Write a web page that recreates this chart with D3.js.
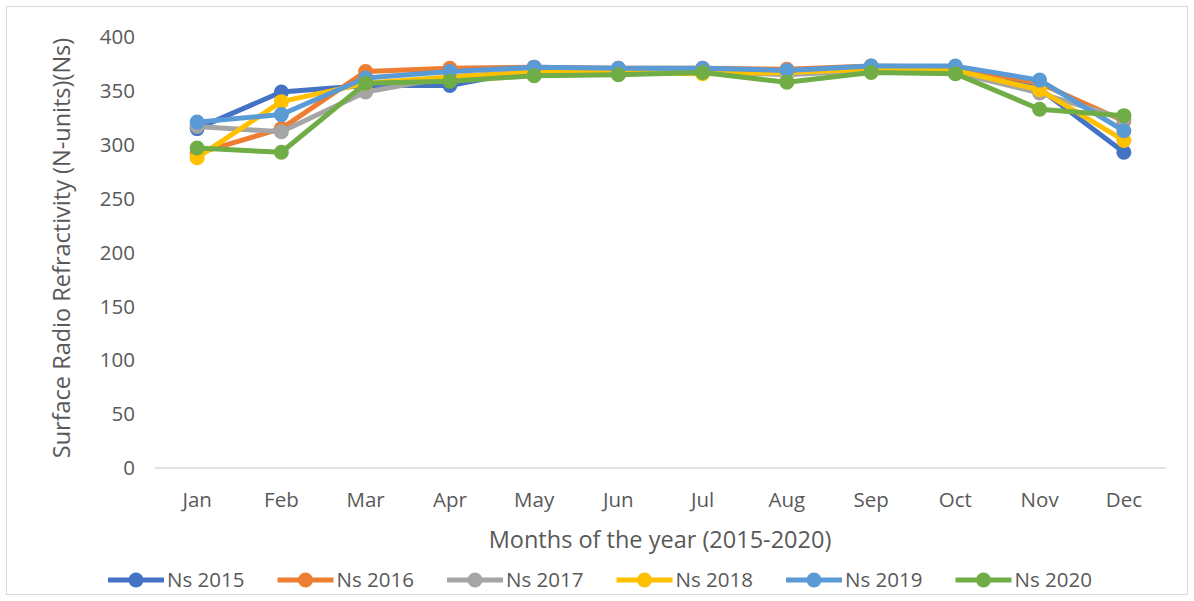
<!DOCTYPE html>
<html>
<head>
<meta charset="utf-8">
<script src="https://cdn.jsdelivr.net/npm/d3@7"></script>
<style>
  body { margin: 0; background: #fff; }
  svg { display: block; font-family: "Open Sans", sans-serif; }
</style>
</head>
<body>
<svg id="chart" width="1194" height="601"></svg>
<script>
var months = ["Jan", "Feb", "Mar", "Apr", "May", "Jun", "Jul", "Aug", "Sep", "Oct", "Nov", "Dec"];
var yTicks = [0, 50, 100, 150, 200, 250, 300, 350, 400];

var ns2015 = [315, 349, 355, 355, 370, 369, 369, 368, 372, 371, 352, 293];
var ns2016 = [292, 315, 368, 371, 372, 371, 371, 370, 373, 372, 357, 322];
var ns2017 = [317, 312, 349, 363, 368, 367, 368, 365, 369, 367, 348, 324];
var ns2018 = [288, 340, 357, 363, 367, 367, 366, 367, 370, 369, 351, 304];
var ns2019 = [321, 328, 362, 368, 372, 371, 371, 369, 373, 373, 360, 313];
var ns2020 = [297, 293, 357, 359, 364, 365, 367, 358, 367, 366, 333, 327];

var seriesNames = ["Ns 2015", "Ns 2016", "Ns 2017", "Ns 2018", "Ns 2019", "Ns 2020"];
var seriesValues = [ns2015, ns2016, ns2017, ns2018, ns2019, ns2020];
var colors = ["#4472C4", "#ED7D31", "#A5A5A5", "#FFC000", "#5B9BD5", "#70AD47"];

var svg = d3.select("#chart");

// chart border
svg.append("rect")
  .attr("x", 6.5).attr("y", 6.5)
  .attr("width", 1181).attr("height", 588)
  .attr("fill", "none").attr("stroke", "#d9d9d9");

var plotLeft = 155, plotRight = 1166, plotTop = 37, plotBottom = 468;

var x = d3.scalePoint().domain(months).range([plotLeft, plotRight]).padding(0.5);
var y = d3.scaleLinear().domain([0, 400]).range([plotBottom, plotTop]);

// y tick labels
svg.append("g").selectAll("text")
  .data(yTicks).enter().append("text")
  .attr("x", 135)
  .attr("y", function(d) { return y(d); })
  .attr("dy", "0.35em")
  .attr("text-anchor", "end")
  .attr("font-size", "20.5px")
  .attr("fill", "#595959")
  .text(function(d) { return d; });

// x axis baseline
svg.append("line")
  .attr("x1", plotLeft).attr("x2", plotRight)
  .attr("y1", plotBottom).attr("y2", plotBottom)
  .attr("stroke", "#d9d9d9").attr("stroke-width", 1.5);

// x tick labels
svg.append("g").selectAll("text")
  .data(months).enter().append("text")
  .attr("x", function(d) { return x(d); })
  .attr("y", 500)
  .attr("dy", "0.35em")
  .attr("text-anchor", "middle")
  .attr("font-size", "20.5px")
  .attr("fill", "#595959")
  .text(function(d) { return d; });

// axis titles
svg.append("text")
  .attr("x", 660).attr("y", 540)
  .attr("dy", "0.35em")
  .attr("text-anchor", "middle")
  .attr("font-size", "23.5px")
  .attr("fill", "#595959")
  .text("Months of the year (2015-2020)");

svg.append("text")
  .attr("transform", "translate(62,248) rotate(-90)")
  .attr("dy", "0.35em")
  .attr("text-anchor", "middle")
  .attr("font-size", "23.5px")
  .attr("fill", "#595959")
  .text("Surface Radio Refractivity (N-units)(Ns)");

// series
var line = d3.line()
  .x(function(d, i) { return x(months[i]); })
  .y(function(d) { return y(d); });

seriesValues.forEach(function(vals, k) {
  var g = svg.append("g");
  g.append("path")
    .datum(vals)
    .attr("d", line)
    .attr("fill", "none")
    .attr("stroke", colors[k])
    .attr("stroke-width", 5)
    .attr("stroke-linejoin", "round");
  g.selectAll("circle")
    .data(vals).enter().append("circle")
    .attr("cx", function(d, i) { return x(months[i]); })
    .attr("cy", function(d) { return y(d); })
    .attr("r", 7.5)
    .attr("fill", colors[k]);
});

// legend
var legend = svg.append("g").selectAll("g")
  .data(seriesNames).enter().append("g")
  .attr("transform", function(d, i) { return "translate(" + (108 + i * 169.5) + ",580)"; });

legend.append("line")
  .attr("x1", 0).attr("x2", 56)
  .attr("stroke", function(d, i) { return colors[i]; })
  .attr("stroke-width", 5);
legend.append("circle")
  .attr("cx", 28).attr("r", 7.5)
  .attr("fill", function(d, i) { return colors[i]; });
legend.append("text")
  .attr("x", 59)
  .attr("dy", "0.35em")
  .attr("font-size", "20.5px")
  .attr("fill", "#595959")
  .text(function(d) { return d; });
</script>
</body>
</html>
